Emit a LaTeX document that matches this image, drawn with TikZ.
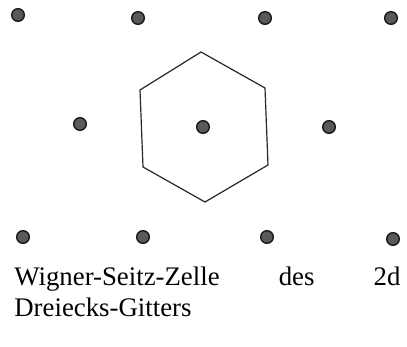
\documentclass[tikz,border=0pt]{standalone}
\usepackage{fontspec}
\setmainfont{Liberation Serif}
\begin{document}
\begin{tikzpicture}[x=0.5pt,y=-0.5pt,
  latt/.style={circle,draw=black!90,fill=black!65,line width=0.7pt,minimum size=6.3pt,inner sep=0pt},
  cell/.style={draw=black!85,line width=0.6pt},
  caption/.style={font=\fontsize{13.4pt}{15.5pt}\selectfont,anchor=north west,inner sep=0pt,align=left,text width=193pt}]
\useasboundingbox (0,0) rectangle (407,347);
\node[latt] (a1) at (18,15) {};
\node[latt] (a2) at (138,18) {};
\node[latt] (a3) at (265,18) {};
\node[latt] (a4) at (391,18) {};
\node[latt] (b1) at (80,124) {};
\node[latt] (b2) at (203,127) {};
\node[latt] (b3) at (329,127) {};
\node[latt] (c1) at (23,237) {};
\node[latt] (c2) at (143,237) {};
\node[latt] (c3) at (267,237) {};
\node[latt] (c4) at (393,239) {};
\coordinate (h1) at (201,52);
\coordinate (h2) at (265,88);
\coordinate (h3) at (268,165);
\coordinate (h4) at (205,202);
\coordinate (h5) at (143,167);
\coordinate (h6) at (140,90);
\draw[cell] (h1) -- (h2) -- (h3) -- (h4) -- (h5) -- (h6) -- cycle;
\node[caption] (t) at (14,267) {Wigner-Seitz-Zelle\hfill des\hfill 2d\\Dreiecks-Gitters};
\end{tikzpicture}
\end{document}
